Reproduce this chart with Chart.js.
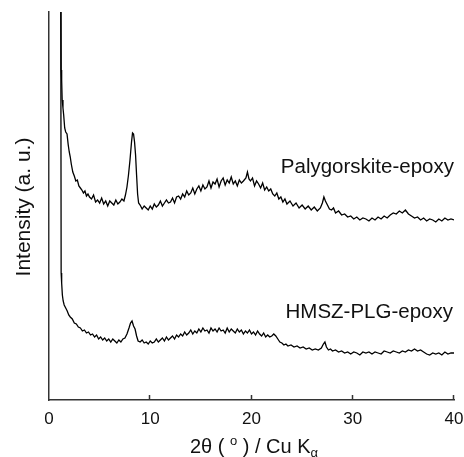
<!DOCTYPE html>
<html>
<head>
<meta charset="utf-8">
<script src="https://cdn.jsdelivr.net/npm/chart.js@4.4.1/dist/chart.umd.min.js"></script>
<style>
  html, body { margin: 0; padding: 0; background: #fff; }
  #wrap { width: 464px; height: 457px; }
</style>
</head>
<body>
<div id="wrap"><canvas id="xrd"></canvas></div>
<script>
const palyX = [1.15,1.2,1.25,1.3,1.38,1.45,1.55,1.65,1.78,1.9,2.0,2.1,2.2,2.35,2.5,2.65,2.8,2.95,3.1,3.25,3.4,3.55,3.7,3.85,4.0,
  4.2,4.4,4.6,4.8,5.0,5.2,5.4,5.6,5.8,6.0,6.2,6.4,6.6,6.8,7.0,7.2,7.4,
  7.55,7.7,7.85,8.0,8.15,8.25,8.35,8.45,8.55,8.65,8.75,8.85,
  9.0,9.2,9.4,9.6,9.8,10.0,10.2,10.4,10.6,10.8,11.0,11.2,11.4,11.6,11.8,
  12.0,12.2,12.4,12.6,12.8,13.0,13.2,13.4,13.6,13.8,14.0,14.2,14.4,14.6,14.8,15.0,15.2,15.4,15.6,15.8,16.0,16.2,16.4,16.6,16.8,17.0,17.2,17.4,17.6,17.8,18.0,18.2,18.4,18.6,18.8,19.0,19.2,
  19.45,19.6,19.75,19.9,
  20.1,20.3,20.5,20.7,20.9,21.1,21.3,21.5,21.7,21.9,22.1,
  22.3,22.5,22.7,22.9,23.1,23.3,23.5,
  23.8,24.1,24.4,24.7,25.0,25.3,25.6,25.9,26.2,26.5,26.8,
  27.0,27.15,27.3,27.5,27.7,27.9,28.1,28.3,
  28.6,28.9,29.2,29.5,29.8,30.1,30.4,30.7,31.0,31.3,31.6,31.9,32.2,32.5,32.8,33.1,33.4,33.7,34.0,34.3,34.6,34.9,35.2,35.5,35.8,36.1,36.4,36.7,37.0,37.3,37.6,37.9,38.2,38.5,38.8,39.1,39.4,39.7,40.0];
const palyY = [500,330,320,300,292,285,272,268,266,255,248,243,236,228,224,219,220,214,212,210,207,209,204,206,203,
  201,205,198,200,197,202,196,199,194,199,197,195,200,196,198,201,199,
  205,213,225,240,258,267,266,258,245,225,206,197,
  195,191,194,192,190,194,191,196,193,195,199,194,197,200,197,
  198,202,197,203,204,201,206,203,209,205,207,212,206,211,214,209,215,211,213,219,212,218,216,221,213,219,222,215,220,217,223,216,219,214,220,217,219,
  222,228,221,219,
  222,214,219,216,212,217,210,213,209,211,206,
  204,207,201,203,198,201,196,
  199,194,197,192,195,191,194,190,193,189,192,
  197,203,199,195,191,190,192,187,
  189,185,186,183,184,181,183,180,182,181,179,182,180,183,181,184,182,185,187,186,189,187,190,186,184,182,183,180,182,179,181,180,178,181,179,182,180,181,180];

const hmszX = [1.15,1.2,1.25,1.32,1.4,1.5,1.65,1.8,1.95,
  2.1,2.3,2.5,2.7,2.9,3.1,3.3,3.5,3.7,3.9,4.1,4.3,4.5,4.7,4.9,5.1,5.3,5.5,5.7,5.9,6.1,6.3,6.5,6.7,6.9,7.1,7.3,7.5,7.7,7.9,
  8.05,8.2,8.35,8.5,8.65,8.8,
  9.0,9.2,9.4,9.6,9.8,10.0,10.2,10.4,10.6,10.8,11.0,11.2,11.4,11.6,11.8,
  12.0,12.2,12.4,12.6,12.8,13.0,13.2,13.4,13.6,13.8,14.0,14.2,14.4,14.6,14.8,15.0,15.2,15.4,15.6,15.8,16.0,16.2,16.4,16.6,16.8,17.0,17.2,17.4,17.6,17.8,18.0,18.2,18.4,18.6,18.8,19.0,19.2,19.4,19.6,19.8,20.0,20.2,20.4,20.6,20.8,21.0,21.2,21.4,21.6,21.8,22.0,
  22.2,22.4,22.6,22.8,23.0,23.2,23.4,23.6,
  23.9,24.2,24.5,24.8,25.1,25.4,25.7,26.0,26.3,26.6,26.9,
  27.1,27.25,27.4,27.6,27.8,28.0,
  28.3,28.6,28.9,29.2,29.5,29.8,30.1,30.4,30.7,31.0,31.3,31.6,31.9,32.2,32.5,32.8,33.1,33.4,33.7,34.0,34.3,34.6,34.9,35.2,35.5,35.8,36.1,36.4,36.7,37.0,37.3,37.6,37.9,38.2,38.5,38.8,39.1,39.4,39.7,40.0];
const hmszY = [500,127,117,105,99,95,92,89,85,
  83,81,77,76,73,72,69,70,67,68,65,66,63,65,61,63,60,62,59,61,58,61,59,57,60,58,61,62,66,72,
  77,79,74,71,64,59,
  58,60,57,58,56,59,57,58,61,58,60,62,59,63,60,
  62,64,61,65,63,66,64,68,65,67,70,66,69,67,71,68,72,69,70,67,72,69,71,68,72,69,70,67,72,68,71,69,67,71,68,70,66,69,67,70,66,68,65,69,66,64,67,63,65,63,64,
  66,64,61,58,57,55,56,54,
  55,53,54,52,53,51,52,50,51,50,52,
  56,58,53,50,51,49,
  50,48,49,47,48,46,48,47,45,48,47,48,46,48,47,46,49,48,47,49,48,47,49,48,50,49,51,49,50,48,46,45,47,46,47,45,48,46,47,47];

const xTicks = [0, 10, 20, 30, 40];
const seriesNames = ['Palygorskite-epoxy', 'HMSZ-PLG-epoxy'];

const toPoints = (xs, ys) => xs.map((x, i) => ({ x: x, y: ys[i] }));
const FONT = 'Liberation Sans, Arial, Helvetica, sans-serif';

const decorations = {
  id: 'decorations',
  afterDraw(chart) {
    const ctx = chart.ctx;
    const xs = chart.scales.x;
    const area = chart.chartArea;
    ctx.save();
    // tick marks point into the plot
    ctx.strokeStyle = '#333';
    ctx.lineWidth = 1.5;
    xTicks.forEach(t => {
      if (t === 0) return;
      const px = Math.round(xs.getPixelForValue(t)) - 0.5;
      ctx.beginPath();
      ctx.moveTo(px, area.bottom);
      ctx.lineTo(px, area.bottom - 5);
      ctx.stroke();
    });
    // series labels
    ctx.fillStyle = '#111';
    ctx.font = '20.5px ' + FONT;
    ctx.textAlign = 'right';
    ctx.textBaseline = 'alphabetic';
    ctx.fillText(seriesNames[0], xs.getPixelForValue(40), 173);
    ctx.fillText(seriesNames[1], xs.getPixelForValue(40) - 1, 318);
    // x title: 2θ ( ° ) / Cu Kα
    ctx.textAlign = 'left';
    const parts = [
      { t: '2\u03b8 ( ', size: 20, dy: 0 },
      { t: 'o', size: 13, dy: -8 },
      { t: ' ) / Cu K', size: 20, dy: 0 },
      { t: '\u03b1', size: 13, dy: 4 }
    ];
    let total = 0;
    parts.forEach(p => { ctx.font = p.size + 'px ' + FONT; p.w = ctx.measureText(p.t).width; total += p.w; });
    let cx = 254 - total / 2;
    parts.forEach(p => {
      ctx.font = p.size + 'px ' + FONT;
      ctx.fillText(p.t, cx, 453 + p.dy);
      cx += p.w;
    });
    // y title
    ctx.translate(30, 207);
    ctx.rotate(-Math.PI / 2);
    ctx.textAlign = 'center';
    ctx.font = '21px ' + FONT;
    ctx.fillText('Intensity (a. u.)', 0, 0);
    ctx.restore();
  }
};

new Chart(document.getElementById('xrd').getContext('2d'), {
  type: 'line',
  data: {
    datasets: [
      { label: seriesNames[0], data: toPoints(palyX, palyY) },
      { label: seriesNames[1], data: toPoints(hmszX, hmszY) }
    ]
  },
  options: {
    responsive: true,
    maintainAspectRatio: false,
    animation: false,
    elements: {
      line: { borderColor: '#000', borderWidth: 1.3, tension: 0, fill: false },
      point: { radius: 0 }
    },
    layout: { padding: { left: 49, right: 10, top: 12, bottom: 0 } },
    plugins: {
      legend: { display: false },
      tooltip: { enabled: false }
    },
    scales: {
      x: {
        type: 'linear',
        min: 0,
        max: 40,
        afterBuildTicks: s => { s.ticks = xTicks.map(v => ({ value: v })); },
        afterFit: s => { s.height = 57; s.paddingLeft = 0; s.paddingRight = 0; },
        grid: { display: false, drawTicks: false },
        border: { display: true, color: '#333', width: 1.5 },
        ticks: { color: '#111', font: { size: 17, family: FONT }, padding: 9, maxRotation: 0 }
      },
      y: {
        min: 0,
        max: 388,
        afterFit: s => { s.width = 0; },
        grid: { display: false, drawTicks: false },
        border: { display: true, color: '#333', width: 1.5 },
        ticks: { display: false }
      }
    }
  },
  plugins: [decorations]
});
</script>
</body>
</html>
